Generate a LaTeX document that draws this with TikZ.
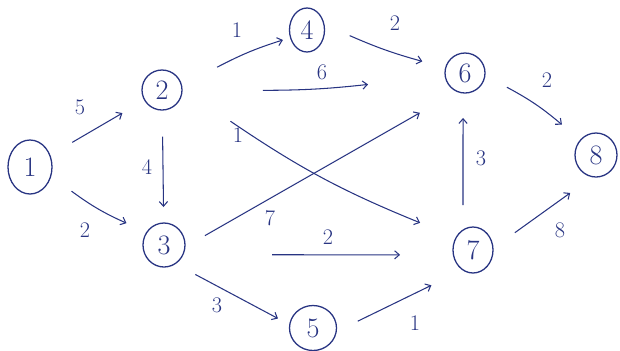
\documentclass[tikz,border=0pt]{standalone}
\usetikzlibrary{shapes.geometric,arrows.meta,calc}
\definecolor{ink}{RGB}{40,52,130}
\begin{document}
\begin{tikzpicture}[x=0.03cm,y=-0.03cm,
  vtx/.style={ellipse,draw=ink,line width=1.1pt,inner sep=0pt,text=ink,font=\fontsize{24}{26}\selectfont},
  lbl/.style={text=ink,inner sep=0pt,font=\fontsize{19}{21}\selectfont},
  arr/.style={draw=ink,line width=0.9pt,-{Straight Barb[length=4pt,width=7pt]}}]
\useasboundingbox (0,0) rectangle (620,350);
\node[vtx,minimum width=1.32cm,minimum height=1.62cm] (n1) at (30,167) {1};
\node[vtx,minimum width=1.2cm,minimum height=1.2cm] (n2) at (162,90) {2};
\node[vtx,minimum width=1.26cm,minimum height=1.32cm] (n3) at (164,245) {3};
\node[vtx,minimum width=1.05cm,minimum height=1.32cm] (n4) at (307,30) {4};
\node[vtx,minimum width=1.41cm,minimum height=1.35cm] (n5) at (313,328) {5};
\node[vtx,minimum width=1.2cm,minimum height=1.2cm] (n6) at (465,73) {6};
\node[vtx,minimum width=1.2cm,minimum height=1.38cm] (n7) at (473,250) {7};
\node[vtx,minimum width=1.26cm,minimum height=1.32cm] (n8) at (596,155) {8};
% connectors
\draw[arr] ($(n1)!0.32!(n2)$) -- ($(n1)!0.70!(n2)$);
\draw[arr] ($(n1)!0.31!(n3)$) to[bend right=6] ($(n1)!0.72!(n3)$);
\draw[arr] ($(n2)!0.30!(n3)$) -- ($(n2)!0.755!(n3)$);
\draw[arr] ($(n2)!0.38!(n4)$) to[bend left=5] ($(n2)!0.834!(n4)$);
\draw[arr] ($(n4)!0.27!(n6)+(0,-6)$) to[bend right=4] ($(n4)!0.73!(n6)$);
\draw[arr] ($(n2)!0.333!(n6)+(0,6)$) to[bend right=3] ($(n2)!0.68!(n6)+(0,6)$);
\draw[arr] ($(n2)!0.22!(n7)+(0,-4)$) to[bend right=6] ($(n2)!0.83!(n7)$);
\draw[arr] ($(n3)!0.136!(n6)+(0,14)$) -- ($(n3)!0.85!(n6)+(0,14)$);
\draw[arr] ($(n3)!0.35!(n7)+(0,8)$) -- ($(n3)!0.764!(n7)+(0,6)$);
\draw[arr] ($(n3)!0.21!(n5)+(0,12)$) -- ($(n3)!0.765!(n5)+(0,10)$);
\draw[arr] ($(n5)!0.28!(n7)+(0,15)$) -- ($(n5)!0.74!(n7)+(0,15)$);
\draw[arr] ($(n7)!0.254!(n6)+(-8,0)$) -- ($(n7)!0.746!(n6)+(-4,0)$);
\draw[arr] ($(n6)!0.32!(n8)+(0,-12)$) to[bend left=6] ($(n6)!0.74!(n8)+(0,-9)$);
\draw[arr] ($(n7)!0.34!(n8)+(0,15)$) -- ($(n7)!0.79!(n8)+(0,18)$);
% labels
\node[lbl] (l12) at (80,107) {5};
\node[lbl] (l13) at (85,230) {2};
\node[lbl] (l23) at (147,167) {4};
\node[lbl] (l24) at (237,30) {1};
\node[lbl] (l46) at (395,23) {2};
\node[lbl] (l26) at (322,72) {6};
\node[lbl] (l27) at (238,135) {1};
\node[lbl] (l36) at (270,218) {7};
\node[lbl] (l37) at (328,237) {2};
\node[lbl] (l35) at (217,305) {3};
\node[lbl] (l57) at (415,323) {1};
\node[lbl] (l76) at (481,158) {3};
\node[lbl] (l68) at (547,80) {2};
\node[lbl] (l78) at (560,230) {8};
\end{tikzpicture}
\end{document}
